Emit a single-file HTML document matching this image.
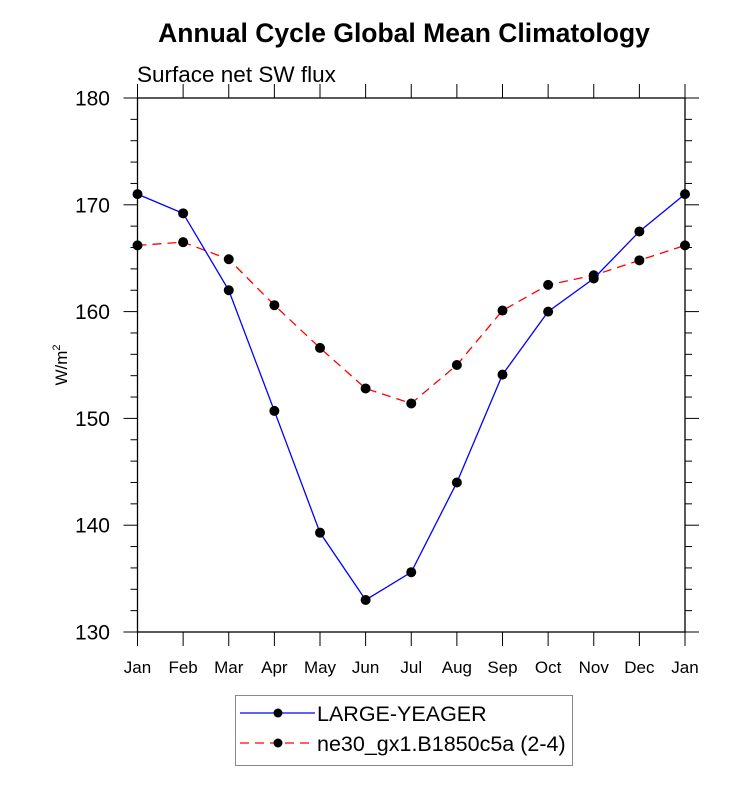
<!DOCTYPE html>
<html><head><meta charset="utf-8"><style>body{margin:0;background:#fff}svg{display:block}text{font-family:"Liberation Sans",sans-serif}</style></head>
<body>
<svg id="chart" width="733" height="786" xmlns="http://www.w3.org/2000/svg">
<text x="404" y="42" text-anchor="middle" font-size="26.5" font-weight="bold">Annual Cycle Global Mean Climatology</text>
<text x="137" y="82" font-size="22.5">Surface net SW flux</text>
<text transform="translate(67,365) rotate(-90)" text-anchor="middle" font-size="17">W/m<tspan dy="-7" font-size="11">2</tspan></text>
<g id="axes"></g>
<g id="series"></g>
<g>
<rect x="235.5" y="695.5" width="337" height="70" fill="none" stroke="#888" stroke-width="1"/>
<line x1="240" y1="713" x2="315" y2="713" stroke="#0000ff" stroke-width="1.3"/>
<circle cx="278" cy="713" r="4.5" fill="#000"/>
<text x="317" y="721" font-size="21.5">LARGE-YEAGER</text>
<line x1="240" y1="743" x2="315" y2="743" stroke="#ff0000" stroke-width="1.3" stroke-dasharray="9,6"/>
<circle cx="278" cy="743" r="4.5" fill="#000"/>
<text x="317" y="751" font-size="21.5">ne30_gx1.B1850c5a (2-4)</text>
</g>
</svg>
<script>
const months=["Jan","Feb","Mar","Apr","May","Jun","Jul","Aug","Sep","Oct","Nov","Dec","Jan"];
const largeYeager=[171.0,169.2,162.0,150.7,139.3,133.0,135.6,144.0,154.1,160.0,163.1,167.5,171.0];
const ne30=[166.2,166.5,164.9,160.6,156.6,152.8,151.4,155.0,160.1,162.5,163.4,164.8,166.2];
const yTicks=[130,140,150,160,170,180];
const L=137.5,R=685,T=98,B=632,ymin=130,ymax=180;
const sx=i=>L+(R-L)*i/(months.length-1);
const sy=v=>B-(B-T)*(v-ymin)/(ymax-ymin);
const NS="http://www.w3.org/2000/svg";
function mk(tag,attrs,parent){const e=document.createElementNS(NS,tag);for(const k in attrs)e.setAttribute(k,attrs[k]);parent.appendChild(e);return e;}
const ax=document.getElementById('axes');
const frame=mk('rect',{x:L,y:T,width:R-L,height:B-T,fill:'none',stroke:'#000','stroke-width':1.3},ax);


for(let v=ymin;v<=ymax;v+=2){const y=sy(v);const major=(v%10===0);const len=major?14:7;
mk('line',{x1:L-len,y1:y,x2:L,y2:y,stroke:'#000','stroke-width':1},ax);
mk('line',{x1:R,y1:y,x2:R+len,y2:y,stroke:'#000','stroke-width':1},ax);}
yTicks.forEach(v=>{const t=mk('text',{x:110,y:sy(v)+7.5,'text-anchor':'end','font-size':21},ax);t.textContent=v;

});
months.forEach((m,i)=>{const x=sx(i);
mk('line',{x1:x,y1:B,x2:x,y2:B+14,stroke:'#000','stroke-width':1},ax);
mk('line',{x1:x,y1:T-14,x2:x,y2:T,stroke:'#000','stroke-width':1},ax);
const t=mk('text',{x:x,y:673,'text-anchor':'middle','font-size':17},ax);t.textContent=m;

});
const sg=document.getElementById('series');
function draw(vals,color,dash,name){
const pts=vals.map((v,i)=>sx(i)+','+sy(v)).join(' ');
const pl=mk('polyline',{points:pts,fill:'none',stroke:color,'stroke-width':1.3},sg);
if(dash)pl.setAttribute('stroke-dasharray',dash);


vals.forEach((v,i)=>{const c=mk('circle',{cx:sx(i),cy:sy(v),r:5,fill:'#000'},sg);

});}
draw(ne30,'#ff0000','9,6','ne30');
draw(largeYeager,'#0000ff',null,'large-yeager');
</script>
</body></html>
